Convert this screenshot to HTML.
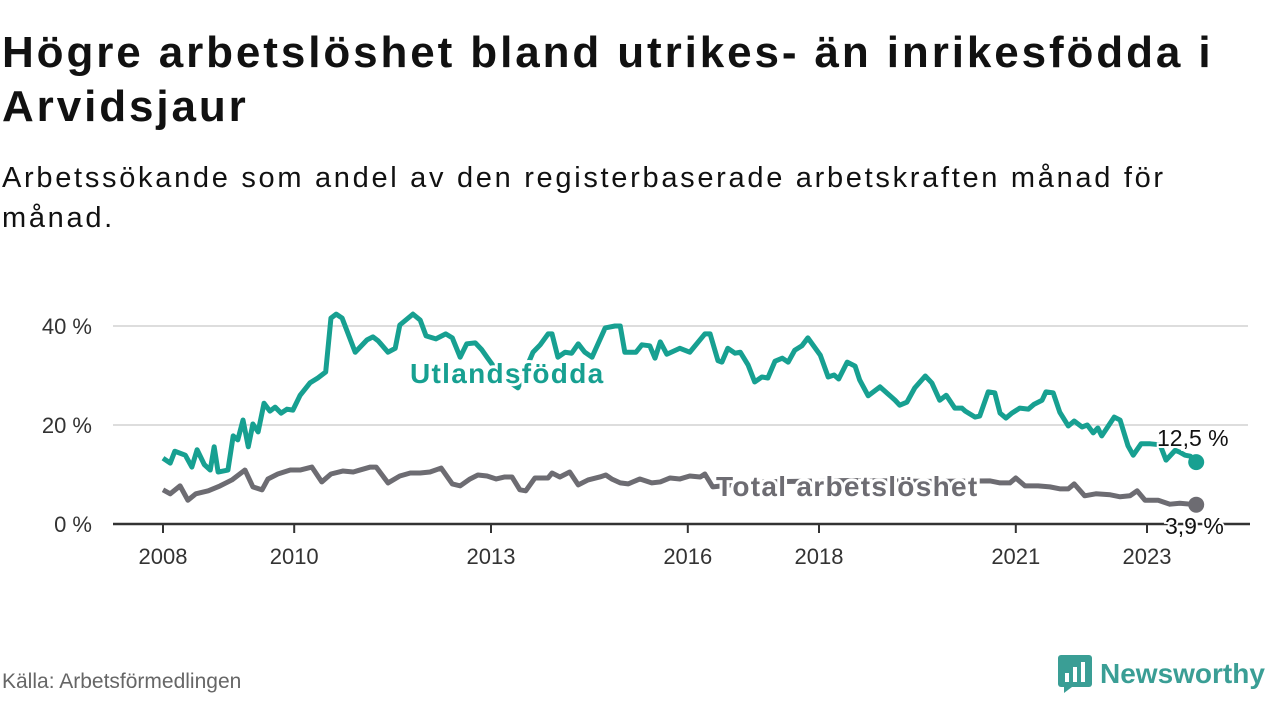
<!DOCTYPE html>
<html><head><meta charset="utf-8">
<style>
body{margin:0;width:1280px;height:720px;background:#fff;font-family:"Liberation Sans","DejaVu Sans",sans-serif;overflow:hidden;position:relative}
h1{position:absolute;left:2px;top:26px;margin:0;font-size:44px;line-height:54px;font-weight:bold;color:#111;width:1275px;letter-spacing:2.9px;white-space:nowrap}
.sub{position:absolute;left:2px;top:158px;margin:0;font-size:29px;line-height:40px;color:#111;width:1275px;letter-spacing:2.7px;white-space:nowrap}
.src{position:absolute;left:2px;top:670px;font-size:21px;color:#666}
.logo{position:absolute;left:1058px;top:655px;display:flex;align-items:center;gap:8px;color:#3a9e95;font-size:28px;font-weight:bold}
</style></head><body>
<h1>Högre arbetslöshet bland utrikes- än inrikesfödda i<br>Arvidsjaur</h1>
<p class="sub">Arbetssökande som andel av den registerbaserade arbetskraften månad för<br>månad.</p>
<svg id="chart" width="1280" height="720" style="position:absolute;left:0;top:0"></svg>
<div class="src">Källa: Arbetsförmedlingen</div>
<div class="logo">
<svg width="34" height="38" viewBox="0 0 34 38"><rect x="0" y="0" width="34" height="32" rx="3" fill="#3a9e95"/><polygon points="6,32 14,32 6,38" fill="#3a9e95"/><rect x="7" y="18" width="4" height="9" fill="#fff"/><rect x="15" y="12" width="4" height="15" fill="#fff"/><rect x="23" y="7" width="4" height="20" fill="#fff"/></svg>
<span>Newsworthy</span></div>
<script>
const yTicks=[0,20,40];
const yTickLabels=["0 %","20 %","40 %"];
const xTicks=[2008,2010,2013,2016,2018,2021,2023];
const foreignDates=[2008,2008.11,2008.18,2008.34,2008.44,2008.52,2008.63,2008.72,2008.78,2008.84,2008.99,2009.07,2009.14,2009.22,2009.30,2009.37,2009.45,2009.54,2009.63,2009.71,2009.80,2009.89,2009.98,2010.09,2010.24,2010.36,2010.48,2010.56,2010.64,2010.73,2010.93,2011.11,2011.20,2011.28,2011.43,2011.54,2011.61,2011.81,2011.92,2012.01,2012.16,2012.31,2012.41,2012.53,2012.63,2012.76,2012.86,2012.95,2013.14,2013.41,2013.64,2013.75,2013.87,2013.93,2014.02,2014.13,2014.23,2014.33,2014.43,2014.54,2014.74,2014.89,2014.97,2015.04,2015.21,2015.30,2015.42,2015.50,2015.58,2015.68,2015.88,2016.03,2016.26,2016.34,2016.46,2016.52,2016.61,2016.72,2016.80,2016.92,2017.02,2017.13,2017.22,2017.33,2017.44,2017.53,2017.63,2017.74,2017.83,2018.02,2018.14,2018.23,2018.30,2018.43,2018.55,2018.62,2018.75,2018.93,2019.05,2019.16,2019.23,2019.34,2019.46,2019.62,2019.72,2019.84,2019.94,2020.07,2020.18,2020.23,2020.38,2020.45,2020.58,2020.68,2020.76,2020.85,2020.94,2021.06,2021.19,2021.28,2021.40,2021.46,2021.57,2021.67,2021.80,2021.89,2022.01,2022.09,2022.18,2022.25,2022.31,2022.39,2022.50,2022.59,2022.71,2022.79,2022.91,2023.05,2023.20,2023.29,2023.43,2023.50,2023.58,2023.66,2023.75];
const foreignValues=[13.3,12.3,14.7,13.9,11.5,15,12,10.9,15.6,10.5,10.9,17.8,17,21,15.6,20.2,18.6,24.4,22.8,23.6,22.4,23.2,23,26,28.5,29.5,30.7,41.6,42.4,41.6,34.7,37.2,37.8,37,34.7,35.5,40.2,42.4,41.2,38,37.4,38.4,37.6,33.7,36.4,36.6,35.2,33.5,30,27.5,34.7,36.2,38.4,38.4,33.7,34.7,34.5,36.4,34.7,33.7,39.6,40,40,34.7,34.7,36.2,36,33.5,36.8,34.3,35.5,34.7,38.4,38.4,33,32.7,35.5,34.5,34.7,32.1,28.7,29.7,29.5,32.9,33.5,32.7,35.1,36,37.6,34.1,29.7,30.1,29.3,32.7,31.9,29.1,25.9,27.7,26.3,25,24,24.6,27.5,29.9,28.5,25,26,23.4,23.4,22.8,21.6,21.8,26.7,26.5,22.4,21.4,22.4,23.4,23.2,24.2,25,26.7,26.5,22.6,19.8,20.8,19.6,20,18.4,19.4,17.8,19.4,21.6,21,15.8,13.9,16.2,16.2,16,12.9,14.9,14.5,13.9,13.7,12.5];
const totalDates=[2008,2008.11,2008.26,2008.38,2008.50,2008.69,2008.87,2009.05,2009.25,2009.37,2009.51,2009.60,2009.75,2009.94,2010.09,2010.27,2010.42,2010.56,2010.74,2010.90,2011.00,2011.16,2011.25,2011.43,2011.61,2011.77,2011.92,2012.07,2012.24,2012.41,2012.53,2012.68,2012.80,2012.94,2013.08,2013.21,2013.32,2013.44,2013.53,2013.67,2013.87,2013.93,2014.05,2014.20,2014.33,2014.48,2014.66,2014.75,2014.84,2014.97,2015.09,2015.27,2015.45,2015.58,2015.73,2015.88,2016.03,2016.19,2016.26,2016.38,2017.10,2018.47,2019.69,2020.61,2020.76,2020.91,2021.00,2021.14,2021.34,2021.52,2021.67,2021.80,2021.89,2022.05,2022.22,2022.44,2022.59,2022.74,2022.85,2022.97,2023.17,2023.35,2023.50,2023.75];
const totalValues=[6.9,6.1,7.7,4.8,6.1,6.7,7.7,8.9,10.9,7.5,6.9,9.1,10.1,10.9,10.9,11.5,8.5,10.1,10.7,10.5,10.9,11.5,11.5,8.3,9.7,10.3,10.3,10.5,11.3,8.1,7.7,9.1,9.9,9.7,9.1,9.5,9.5,6.9,6.7,9.3,9.3,10.3,9.5,10.5,7.9,8.9,9.5,9.9,9.1,8.3,8.1,9.1,8.3,8.5,9.3,9.1,9.7,9.5,10.1,7.5,8.5,8.8,8.6,8.7,8.3,8.3,9.3,7.7,7.7,7.5,7.1,7.1,8.1,5.7,6.1,5.9,5.5,5.7,6.7,4.8,4.8,4.0,4.2,3.9];
const NS="http://www.w3.org/2000/svg";
const svg=document.getElementById('chart');
const xS=d=>163+(d-2008)*65.6;
const yS=v=>524-v*4.95;
function mk(t,a,p){const e=document.createElementNS(NS,t);for(const k in a)e.setAttribute(k,a[k]);(p||svg).appendChild(e);return e;}
yTicks.forEach((t,i)=>{
  if(t>0){const g=mk('line',{x1:113,x2:1248,y1:yS(t),y2:yS(t),stroke:'#ddd','stroke-width':2});
  
  }
  const l=mk('text',{x:92,y:yS(t)+8,'text-anchor':'end','font-size':22,fill:'#333'});
  l.textContent=yTickLabels[i];
  
  
});
const ax=mk('line',{x1:113,x2:1250,y1:524,y2:524,stroke:'#333','stroke-width':2.5});


xTicks.forEach(t=>{
  mk('line',{x1:xS(t),x2:xS(t),y1:524,y2:533,stroke:'#333','stroke-width':2});
  const l=mk('text',{x:xS(t),y:564,'text-anchor':'middle','font-size':22,fill:'#333'});
  l.textContent=t;
  
  
});
function line(ds,vs,c,name){
  const p=mk('polyline',{points:ds.map((d,i)=>xS(d)+','+yS(vs[i])).join(' '),fill:'none',stroke:c,'stroke-width':5,'stroke-linejoin':'round'});
  
  
  const n=ds.length-1;
  const c2=mk('circle',{cx:xS(ds[n]),cy:yS(vs[n]),r:8,fill:c});
  
  
}
line(totalDates,totalValues,'#6d6c72','total-line');
line(foreignDates,foreignValues,'#17a091','foreign-born-line');
function lab(x,y,t,c,name,sz,bold,ls){
  const e=mk('text',{x:x,y:y,'font-size':sz,fill:c,'font-weight':bold?'bold':'normal',stroke:'#fff','stroke-width':bold?6:4,'paint-order':'stroke','letter-spacing':ls});
  e.textContent=t;
  
  
}
lab(410,383,'Utlandsfödda','#17a091','foreign-born-label',28,true,1.3);
lab(716,496,'Total arbetslöshet','#6d6c72','total-label',28,true,1.3);
const lf=foreignValues.length-1, lt=totalValues.length-1;
lab(1157,446,foreignValues[lf].toFixed(1).replace('.',',')+' %','#111','foreign-born-end-value',23,false,0);
lab(1165,534,totalValues[lt].toFixed(1).replace('.',',')+' %','#111','total-end-value',23,false,0);
</script>
</body></html>
